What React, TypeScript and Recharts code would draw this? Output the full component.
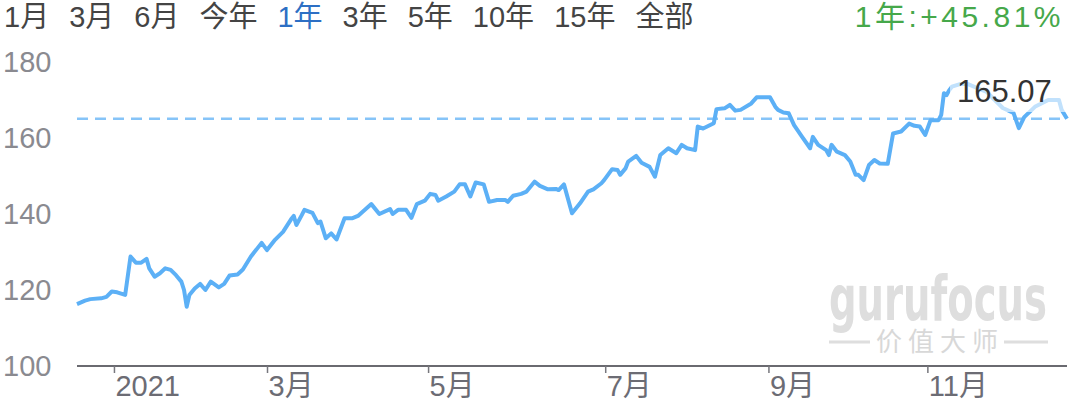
import React from 'react';
import { LineChart, Line, XAxis, YAxis, ReferenceLine } from 'recharts';

// 日期偏移（以 2021-01-01 为 0，轴上刻度按图中位置读取）
const days = [
  -14, -11, -9, -5, -3, -1, 1, 4, 6, 8, 10, 12, 13, 15, 17, 19, 21, 23, 25, 26, 27, 28, 30, 32, 34, 36, 39,
  41, 43, 46, 48, 51, 55, 57, 60, 63, 66, 67, 68, 70, 71, 74, 76, 77, 79, 81, 83, 86, 89, 91, 96, 99, 103,
  104, 106, 109, 111, 113, 116, 118, 120, 121, 124, 127, 129, 131, 133, 135, 138, 140, 143, 146, 147, 149,
  152, 154, 157, 159, 162, 165, 166, 168, 171, 174, 177, 179, 182, 183, 186, 188, 189, 191, 192, 195, 197,
  200, 202, 204, 207, 210, 212, 214, 217, 218, 220, 224, 225, 228, 230, 232, 234, 238, 240, 245, 247, 248,
  250, 252, 254, 257, 260, 261, 263, 266, 267, 268, 270, 273, 275, 277, 278, 280, 282, 284, 286, 289, 291,
  294, 297, 299, 301, 303, 305, 308, 309, 310, 311, 312, 313, 316, 319, 326, 329, 332, 336, 338, 340, 344,
  349, 353, 354, 356,
];

const prices = [
  116.3, 117.2, 117.6, 117.8, 118.2, 119.6, 119.4, 118.7, 128.8, 127.2, 127.2, 128.2, 125.7, 123.5, 124.4,
  125.7, 125.3, 123.9, 122.2, 120.0, 115.6, 118.7, 120.4, 121.6, 120.0, 122.2, 120.7, 121.6, 123.8, 124.1,
  125.4, 128.8, 132.4, 130.5, 133.2, 135.3, 138.6, 139.5, 137.1, 139.7, 141.1, 140.3, 137.6, 138.0, 133.6,
  134.9, 133.3, 138.9, 138.9, 139.5, 142.6, 140.0, 141.3, 140.0, 141.1, 141.1, 139.0, 142.6, 143.5, 145.3,
  145.0, 143.5, 144.6, 145.9, 147.8, 147.8, 144.6, 148.3, 147.8, 143.2, 143.7, 143.7, 143.2, 144.8, 145.3,
  145.9, 148.5, 147.4, 146.5, 146.6, 146.3, 147.8, 140.2, 142.8, 145.9, 146.5, 148.1, 148.9, 151.8, 151.6,
  150.3, 152.0, 153.8, 155.3, 153.5, 152.4, 149.8, 155.5, 157.3, 156.0, 158.2, 157.3, 156.8, 163.0, 162.5,
  163.9, 167.6, 167.8, 168.7, 167.2, 167.4, 169.1, 170.7, 170.7, 168.2, 167.4, 166.7, 166.5, 163.4, 160.3,
  157.3, 160.3, 158.2, 156.8, 155.5, 158.2, 156.4, 155.5, 153.8, 150.3, 150.3, 148.9, 152.9, 154.2, 153.3,
  153.2, 161.2, 161.7, 163.8, 163.2, 163.0, 160.8, 164.7, 164.7, 166.1, 171.8, 171.3, 172.6, 173.5, 174.2,
  174.2, 172.1, 170.0, 167.9, 166.6, 162.6, 165.5, 168.2, 170.0, 170.0, 167.4, 165.07,
];

const monthTicks = [0, 57.2, 117.4, 183.6, 244.6, 304];
const monthLabels = ['2021', '3月', '5月', '7月', '9月', '11月'];
const priceTicks = [100, 120, 140, 160, 180];
const rangeButtons = ['1月', '3月', '6月', '今年', '1年', '3年', '5年', '10年', '15年', '全部'];
const activeRange = '1年';
const lastPrice = 165.07;
const changeText = '1年:+45.81%';

const data = days.map((d, i) => ({ day: d, price: prices[i] }));

const FONT = '"Liberation Sans", "Noto Sans CJK SC", sans-serif';

function MonthTick({ x, y, index }: any) {
  return (
    <g>
      <line x1={x} y1={y} x2={x} y2={y + 7} stroke="#77777d" strokeWidth={1.5} />
      <text x={x + 1} y={y + 30} fill="#6c6c74" fontSize={29} fontFamily={FONT}>
        {monthLabels[index]}
      </text>
    </g>
  );
}

function PriceTick({ y, payload }: any) {
  return (
    <text x={3} y={y} dy="0.36em" fill="#8a8a90" fontSize={29} fontFamily={FONT}>
      {payload.value}
    </text>
  );
}

export default function App() {
  return (
    <div
      style={{
        position: 'fixed',
        left: 0,
        top: 0,
        width: 1080,
        height: 408,
        background: '#fff',
        fontFamily: FONT,
        overflow: 'hidden',
      }}
    >
      {/* 时间范围选择 */}
      <div
        style={{
          position: 'absolute',
          left: 4,
          top: 0,
          fontSize: 29,
          lineHeight: '34px',
          color: '#444',
          whiteSpace: 'nowrap',
        }}
      >
        {rangeButtons.map((r) => (
          <span key={r} style={{ marginRight: 20, color: r === activeRange ? '#2d6fc4' : '#444' }}>
            {r}
          </span>
        ))}
      </div>
      <div
        style={{
          position: 'absolute',
          right: 16,
          top: 0,
          fontSize: 30,
          letterSpacing: 3.5,
          lineHeight: '34px',
          color: '#46a84a',
          whiteSpace: 'nowrap',
        }}
      >
        {changeText}
      </div>

      {/* 水印 */}
      <svg width={1080} height={408} style={{ position: 'absolute', left: 0, top: 0 }}>
        <text
          x={829}
          y={320}
          fontSize={62}
          fontWeight="bold"
          fontFamily='"DejaVu Sans Condensed", "DejaVu Sans", sans-serif'
          fill="#dedede"
          textLength={218}
          lengthAdjust="spacingAndGlyphs"
        >
          gurufocus
        </text>
        <line x1={829} y1={342} x2={870} y2={342} stroke="#dedede" strokeWidth={3} />
        <line x1={1004} y1={342} x2={1048} y2={342} stroke="#dedede" strokeWidth={3} />
        <text x={876} y={351} fontSize={26} fontFamily='"Noto Sans CJK SC", sans-serif' fill="#d8d8d8" textLength={122}>
          价值大师
        </text>
      </svg>

      <div style={{ position: 'absolute', left: 0, top: 0 }}>
        <LineChart width={1080} height={408} data={data} margin={{ top: 62, right: 13, bottom: 0, left: 0 }}>
          <XAxis
            dataKey="day"
            type="number"
            domain={[-14, 356]}
            ticks={monthTicks}
            tick={<MonthTick />}
            tickLine={false}
            tickSize={0}
            tickMargin={0}
            height={42}
            axisLine={{ stroke: '#6a6a70', strokeWidth: 2 }}
            interval={0}
          />
          <YAxis
            type="number"
            domain={[100, 180]}
            ticks={priceTicks}
            tick={<PriceTick />}
            axisLine={false}
            tickLine={false}
            width={77}
            interval={0}
          />
          <ReferenceLine y={lastPrice} stroke="#86c4f8" strokeWidth={2.5} strokeDasharray="11 7" />
          <Line
            type="linear"
            dataKey="price"
            stroke="#5cb0f6"
            strokeWidth={4}
            dot={false}
            isAnimationActive={false}
            strokeLinejoin="round"
          />
        </LineChart>
      </div>

      {/* 最新价标签 */}
      <div
        style={{
          position: 'absolute',
          left: 950,
          top: 72,
          width: 116,
          height: 40,
          background: 'rgba(255,255,255,0.62)',
          fontSize: 31,
          lineHeight: '40px',
          color: '#333',
          paddingLeft: 7,
          boxSizing: 'border-box',
          whiteSpace: 'nowrap',
        }}
      >
        {lastPrice.toFixed(2)}
      </div>
    </div>
  );
}
